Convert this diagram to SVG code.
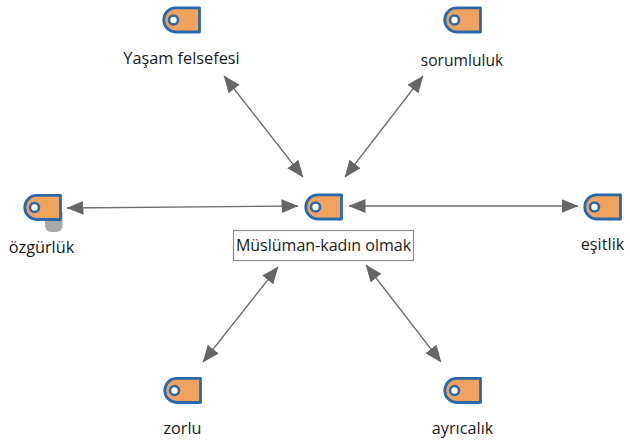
<svg xmlns="http://www.w3.org/2000/svg" width="630" height="444" viewBox="0 0 630 444">
<style>
.t{font-family:"Open Sans","Noto Sans","Liberation Sans",sans-serif;font-size:16.300px;fill:#1a1a1a;text-anchor:middle}
.c{stroke:#6e6e6e;stroke-width:1.300;fill:none;marker-start:url(#a);marker-end:url(#a)}
.tag{fill:#f0a35e;stroke:#2b68a8;stroke-width:2.800;stroke-linejoin:round}
.h{fill:#fff;stroke:#2b68a8;stroke-width:2.600}
</style>
<defs>
<marker id="a" viewBox="0 0 17 14" refX="16.500" refY="7" markerWidth="17" markerHeight="14" markerUnits="userSpaceOnUse" orient="auto-start-reverse"><path d="M0 0L17 7L0 14Z" fill="#666"/></marker>
<g id="tag"><path class="tag" d="M13 1.300H37V25.500H13A12 12 0 0 1 1.300 13.400A12 12 0 0 1 13 1.300Z"/><circle class="h" cx="11" cy="13.500" r="4.500"/></g>
</defs>
<g id="connectors">
<line class="c" x1="224" y1="76" x2="303" y2="177"/>
<line class="c" x1="423" y1="76" x2="345" y2="177"/>
<line class="c" x1="67" y1="208" x2="298" y2="206"/>
<line class="c" x1="349" y1="206" x2="578" y2="206"/>
<line class="c" x1="278" y1="267" x2="203" y2="362"/>
<line class="c" x1="366" y1="265" x2="441" y2="362"/>
</g>
<g id="n-center"><use href="#tag" x="304.500" y="193.500"/><rect x="233.500" y="230.500" width="180" height="30" fill="#fff" stroke="#8c8c8c" stroke-width="1.200"/><text class="t" x="323.500" y="251" style="font-size:16px">Müslüman-kadın olmak</text></g>
<g id="n-yasam"><use href="#tag" x="162.500" y="6.500"/><text class="t" x="181.500" y="64">Yaşam felsefesi</text></g>
<g id="n-sorumluluk"><use href="#tag" x="443.500" y="6.500"/><text class="t" x="462" y="66" style="font-size:15.600px">sorumluluk</text></g>
<g id="n-ozgurluk"><path d="M45 212H62.500V226A6 6 0 0 1 56.500 232H51A6 6 0 0 1 45 226Z" fill="#a8a8a8"/><use href="#tag" x="23.500" y="194"/><text class="t" x="41.500" y="253">özgürlük</text></g>
<g id="n-esitlik"><use href="#tag" x="583.500" y="193.500"/><text class="t" x="602.500" y="250">eşitlik</text></g>
<g id="n-zorlu"><use href="#tag" x="163.500" y="377"/><text class="t" x="182.500" y="434">zorlu</text></g>
<g id="n-ayricalik"><use href="#tag" x="443.500" y="377"/><text class="t" x="462.500" y="434">ayrıcalık</text></g>
</svg>
